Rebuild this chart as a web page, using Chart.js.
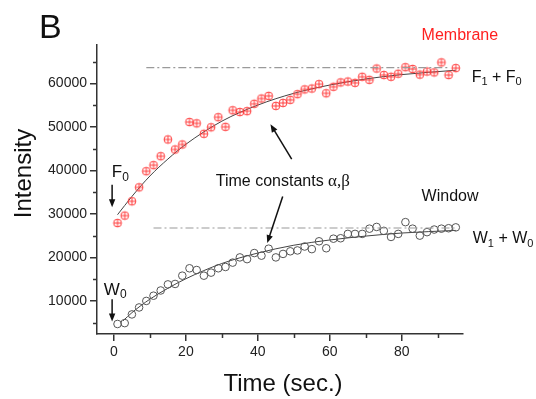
<!DOCTYPE html>
<html>
<head>
<meta charset="utf-8">
<script src="https://cdn.jsdelivr.net/npm/chart.js@4"></script>
<style>
  html, body { margin: 0; padding: 0; background: #fff; }
</style>
</head>
<body>
<canvas id="myChart" width="536" height="399"></canvas>
<script>
// sample times (sec.)
const times = [1,3,5,7,9,11,13,15,17,19,21,23,25,27,29,31,33,35,37,39,41,43,45,47,
               49,51,53,55,57,59,61,63,65,67,69,71,73,75,77,79,81,83,85,87,89,91,93,95]

// Membrane intensity (red)
const membraneVals = [27900,29600,32900,36100,39800,41200,43250,47100,44800,45950,51100,50800,
                      48400,49900,52200,50000,53800,53400,53600,55300,56500,57100,54800,55500,
                      56200,57500,58600,58800,59800,57700,59200,60200,60400,60100,61500,60800,
                      63400,61900,61500,62200,63700,63300,62000,62700,62500,64800,61900,63500]

// Window intensity (black)
const windowVals = [4700,4900,6900,8500,10000,11200,12400,13800,13900,15800,17500,17100,
                    15800,16500,17500,17800,18800,20000,19600,21000,20400,22000,20000,20800,
                    21400,21600,22500,21900,23700,22100,24300,24400,25400,25400,25400,26600,
                    27000,26100,24700,25400,28100,26600,25000,25800,26400,26600,26700,26900]

// fitted curves
const memFitT = [1,5,10,15,20,30,40,50,60,70,80,95]
const memFitV = [29800,34000,38700,42600,46000,51300,55000,57700,59600,61000,62000,63000]
const winFitT = [2.5,5,10,15,20,30,40,50,60,70,80,95]
const winFitV = [5400,7300,10400,12900,15100,18600,21000,22800,24000,24900,25600,26200]

// plateau levels (F1 + F0, W1 + W0)
const memPlateauT = [9,93]
const memPlateau = 63600
const winPlateauT = [11,95]
const winPlateau = 26750

const xTicks = [0,20,40,60,80]
const yTicks = [10000,20000,30000,40000,50000,60000]

const pts = (xs, ys) => xs.map((x,i) => ({x: x, y: Array.isArray(ys) ? ys[i] : ys}))

// circle with a cross, like the origin marker
function crossCircle(color){
  const c = document.createElement('canvas')
  c.width = 12; c.height = 12
  const g = c.getContext('2d')
  g.strokeStyle = color
  g.lineWidth = 1
  g.beginPath(); g.arc(6,6,3.9,0,Math.PI*2); g.stroke()
  g.beginPath()
  g.moveTo(2.1,6); g.lineTo(9.9,6)
  g.moveTo(6,2.1); g.lineTo(6,9.9)
  g.stroke()
  return c
}

function arrow(ctx, x1, y1, x2, y2){
  const a = Math.atan2(y2-y1, x2-x1)
  const h = 8, w = 3.2
  ctx.beginPath()
  ctx.moveTo(x1,y1)
  ctx.lineTo(x2 - Math.cos(a)*h*0.8, y2 - Math.sin(a)*h*0.8)
  ctx.stroke()
  ctx.beginPath()
  ctx.moveTo(x2,y2)
  ctx.lineTo(x2 - Math.cos(a)*h - Math.sin(a)*w, y2 - Math.sin(a)*h + Math.cos(a)*w)
  ctx.lineTo(x2 - Math.cos(a)*h + Math.sin(a)*w, y2 - Math.sin(a)*h - Math.cos(a)*w)
  ctx.closePath()
  ctx.fill()
}

// text with subscripts: parts = [[text, isSub], ...]
function subText(ctx, parts, x, y, size){
  let cx = x
  parts.forEach(p => {
    ctx.font = (p[1] ? Math.round(size*0.68) : size) + 'px "Liberation Sans", Arial, sans-serif'
    ctx.fillText(p[0], cx, p[1] ? y + size*0.3 : y)
    cx += ctx.measureText(p[0]).width
  })
}

const extras = {
  id: 'extras',
  afterDraw(chart){
    const ctx = chart.ctx
    const xs = chart.scales.x, ys = chart.scales.y
    const X = v => xs.getPixelForValue(v), Y = v => ys.getPixelForValue(v)
    ctx.save()

    // minor ticks
    ctx.strokeStyle = '#333'
    ctx.lineWidth = 1.5
    ctx.beginPath()
    ;[10,30,50,70,90].forEach(v => { ctx.moveTo(Math.round(X(v))+0.5, ys.bottom); ctx.lineTo(Math.round(X(v))+0.5, ys.bottom+4) })
    ;[5000,15000,25000,35000,45000,55000,65000].forEach(v => { ctx.moveTo(xs.left, Math.round(Y(v))+0.5); ctx.lineTo(xs.left-4, Math.round(Y(v))+0.5) })
    ctx.stroke()

    // panel letter and axis titles
    ctx.fillStyle = '#111'
    ctx.textBaseline = 'alphabetic'
    ctx.font = '34px "Liberation Sans", Arial, sans-serif'
    ctx.fillText('B', 39, 38)
    ctx.font = '24px "Liberation Sans", Arial, sans-serif'
    ctx.textAlign = 'center'
    ctx.fillText('Time (sec.)', (xs.left+xs.right)/2 + 3, 391)
    ctx.save()
    ctx.translate(31, (ys.top+ys.bottom)/2 - 16)
    ctx.rotate(-Math.PI/2)
    ctx.fillText('Intensity', 0, 0)
    ctx.restore()
    ctx.textAlign = 'left'

    // annotations
    ctx.textBaseline = 'middle'
    ctx.fillStyle = '#ff2020'
    ctx.font = '16px "Liberation Sans", Arial, sans-serif'
    ctx.fillText('Membrane', X(85.5), Y(71000))
    ctx.fillStyle = '#111'
    ctx.fillText('Window', X(85.5), Y(33900))
    subText(ctx, [['F',false],['1',true],[' + F',false],['0',true]], X(99.4), Y(61400), 16)
    subText(ctx, [['W',false],['1',true],[' + W',false],['0',true]], X(99.7), Y(24300), 16)
    subText(ctx, [['F',false],['0',true]], X(-0.6), Y(39500), 17)
    subText(ctx, [['W',false],['0',true]], X(-2.8), Y(12500), 17)

    ctx.font = '16px "Liberation Sans", Arial, sans-serif'
    const label = 'Time constants '
    ctx.fillText(label, X(28.3), Y(37400))
    const lw = ctx.measureText(label).width
    ctx.font = '17px "Liberation Serif", "Times New Roman", serif'
    ctx.fillText('\u03b1,\u03b2', X(28.3) + lw, Y(37400))

    ctx.strokeStyle = '#111'
    ctx.lineWidth = 1.5
    arrow(ctx, X(-0.5), Y(36700), X(-0.5), Y(31500))
    arrow(ctx, X(-0.5), Y(10400), X(-0.5), Y(5300))
    arrow(ctx, X(49.4), Y(42600), X(43.5), Y(50600))
    arrow(ctx, X(46.9), Y(34000), X(42.6), Y(23300))
    ctx.restore()
  }
}

const axisStyle = {
  grid: { drawOnChartArea: false, color: '#333', lineWidth: 1.5, tickLength: 7 },
  border: { color: '#333', width: 1.5 },
  ticks: { color: '#222', font: { size: 14, family: '"Liberation Sans", Arial, sans-serif' },
           callback: v => String(v) }
}

new Chart("myChart", {
  type: 'scatter',
  data: {
    datasets: [
      { data: pts(memPlateauT, memPlateau), showLine: true, pointRadius: 0,
        borderColor: '#9a9a9a', borderWidth: 1.2, borderDash: [8,3,2,3] },
      { data: pts(winPlateauT, winPlateau), showLine: true, pointRadius: 0,
        borderColor: '#9a9a9a', borderWidth: 1.2, borderDash: [8,3,2,3] },
      { data: pts(times, membraneVals), pointStyle: crossCircle('#ff3b3b'), pointRadius: 4 },
      { data: pts(times, windowVals), pointStyle: 'circle', pointRadius: 3.8,
        borderColor: '#555', borderWidth: 1, backgroundColor: 'rgba(0,0,0,0)' },
      { data: pts(memFitT, memFitV), showLine: true, pointRadius: 0, tension: 0.4,
        cubicInterpolationMode: 'monotone', borderColor: '#444', borderWidth: 1 },
      { data: pts(winFitT, winFitV), showLine: true, pointRadius: 0, tension: 0.4,
        cubicInterpolationMode: 'monotone', borderColor: '#444', borderWidth: 1 }
    ]
  },
  options: {
    responsive: false,
    animation: false,
    layout: { padding: { top: 45, right: 73, left: 0, bottom: 0 } },
    plugins: { legend: { display: false }, tooltip: { enabled: false } },
    scales: {
      x: Object.assign({}, axisStyle, {
        type: 'linear', min: -4.7, max: 97,
        ticks: Object.assign({}, axisStyle.ticks, { padding: 3, maxRotation: 0 }),
        afterBuildTicks: a => { a.ticks = xTicks.map(v => ({value: v})) },
        afterFit: a => { a.height = 65 }
      }),
      y: Object.assign({}, axisStyle, {
        min: 2400, max: 68800,
        ticks: Object.assign({}, axisStyle.ticks, { padding: 3 }),
        afterBuildTicks: a => { a.ticks = yTicks.map(v => ({value: v})) },
        afterFit: a => { a.width = 97 }
      })
    }
  },
  plugins: [extras]
})
</script>
</body>
</html>
